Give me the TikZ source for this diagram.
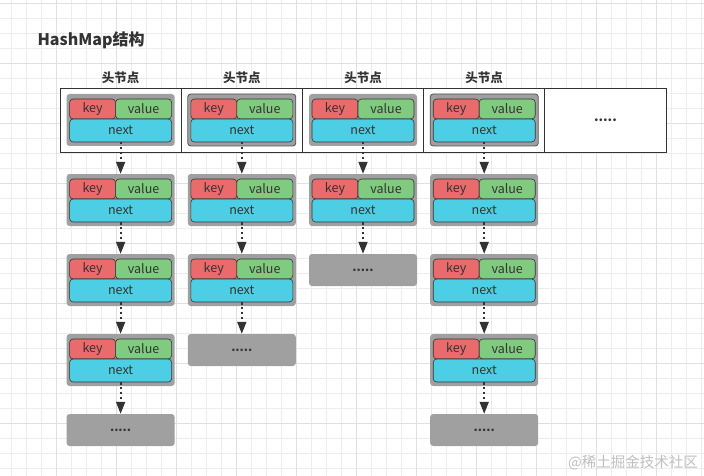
\documentclass[tikz,border=0pt]{standalone}
\usepackage{fontspec}
\setmainfont{Noto Sans CJK SC}
\usetikzlibrary{arrows.meta,positioning}
\definecolor{keyred}{HTML}{EA6B6B}
\definecolor{valgreen}{HTML}{80CB7F}
\definecolor{nextcyan}{HTML}{4CCFE4}
\definecolor{boxgrey}{HTML}{A0A0A0}
\definecolor{ink}{HTML}{333333}
\tikzset{
  outerbox/.style={rectangle, rounded corners=3pt, fill=boxgrey, minimum width=108pt, minimum height=52pt, inner sep=0pt},
  part/.style={rectangle, rounded corners=3.5pt, draw=ink, line width=0.6pt, inner sep=0pt, text=ink, font=\fontsize{12.5}{14}\selectfont},
  keybox/.style={part, fill=keyred, minimum width=46pt, minimum height=20pt},
  valbox/.style={part, fill=valgreen, minimum width=56pt, minimum height=20pt},
  nextbox/.style={part, fill=nextcyan, minimum width=102pt, minimum height=23pt},
  dotbox/.style={rectangle, rounded corners=3pt, fill=boxgrey, minimum width=108pt, minimum height=32pt, inner sep=0pt, text=ink, font=\bfseries\fontsize{12}{14}\selectfont},
  cell/.style={rectangle, draw=ink, line width=0.8pt, fill=white, minimum width=121.2pt, minimum height=64pt, inner sep=0pt},
  headlabel/.style={text=ink, font=\bfseries\fontsize{12.5}{14}\selectfont},
  link/.style={ink, line width=1.8pt, dash pattern=on 2.2pt off 2.6pt, -{Triangle[width=9pt,length=12pt]}},
  minorline/.style={line width=0.5pt, color=black!7},
  majorline/.style={line width=0.6pt, color=black!12}
}
\begin{document}
\begin{tikzpicture}[x=1pt,y=-1pt]
\useasboundingbox (0,0) rectangle (704,476);
% background grid
\foreach \gx in {0,...,46} \draw[minorline] (11.7+15*\gx,0) -- (11.7+15*\gx,476);
\foreach \gy in {0,...,31} \draw[minorline] (0,3.3+15*\gy) -- (704,3.3+15*\gy);
\foreach \gx in {0,...,10} \draw[majorline] (56.7+60*\gx,0) -- (56.7+60*\gx,476);
\foreach \gy in {0,...,7} \draw[majorline] (0,3.3+60*\gy) -- (704,3.3+60*\gy);
\node[anchor=west, text=ink, font=\bfseries\fontsize{16}{18}\selectfont] (title) at (34,40) {HashMap结构};
% table
\node[cell] (c1) at (120.6,120) {};
\node[cell] (c2) at (241.8,120) {};
\node[cell] (c3) at (363,120) {};
\node[cell] (c4) at (484.2,120) {};
\node[cell, font=\bfseries\fontsize{13}{14}\selectfont, text=ink] (c5) at (605.4,120) {.....};
\node[headlabel] (h1) at (120.6,78) {头节点};
\node[headlabel] (h2) at (241.8,78) {头节点};
\node[headlabel] (h3) at (363,78) {头节点};
\node[headlabel] (h4) at (484.2,78) {头节点};
% column 1
\node[outerbox] (e11) at (120.6,120) {};
\node[keybox] (e11k) at (92.6,109) {key};
\node[valbox] (e11v) at (143.6,109) {value};
\node[nextbox] (e11n) at (120.6,130.5) {next};
\node[outerbox] (e12) at (120.6,200) {};
\node[keybox] (e12k) at (92.6,189) {key};
\node[valbox] (e12v) at (143.6,189) {value};
\node[nextbox] (e12n) at (120.6,210.5) {next};
\node[outerbox] (e13) at (120.6,280) {};
\node[keybox] (e13k) at (92.6,269) {key};
\node[valbox] (e13v) at (143.6,269) {value};
\node[nextbox] (e13n) at (120.6,290.5) {next};
\node[outerbox] (e14) at (120.6,360) {};
\node[keybox] (e14k) at (92.6,349) {key};
\node[valbox] (e14v) at (143.6,349) {value};
\node[nextbox] (e14n) at (120.6,370.5) {next};
\node[dotbox] (d15) at (120.6,430) {.....};
% column 2
\node[outerbox, draw=ink!85, line width=0.8pt] (e21) at (241.8,120) {};
\node[keybox] (e21k) at (213.8,109) {key};
\node[valbox] (e21v) at (264.8,109) {value};
\node[nextbox] (e21n) at (241.8,130.5) {next};
\node[outerbox] (e22) at (241.8,200) {};
\node[keybox] (e22k) at (213.8,189) {key};
\node[valbox] (e22v) at (264.8,189) {value};
\node[nextbox] (e22n) at (241.8,210.5) {next};
\node[outerbox] (e23) at (241.8,280) {};
\node[keybox] (e23k) at (213.8,269) {key};
\node[valbox] (e23v) at (264.8,269) {value};
\node[nextbox] (e23n) at (241.8,290.5) {next};
\node[dotbox] (d24) at (241.8,350) {.....};
% column 3
\node[outerbox] (e31) at (363,120) {};
\node[keybox] (e31k) at (335,109) {key};
\node[valbox] (e31v) at (386,109) {value};
\node[nextbox] (e31n) at (363,130.5) {next};
\node[outerbox] (e32) at (363,200) {};
\node[keybox] (e32k) at (335,189) {key};
\node[valbox] (e32v) at (386,189) {value};
\node[nextbox] (e32n) at (363,210.5) {next};
\node[dotbox] (d33) at (363,270) {.....};
% column 4
\node[outerbox, draw=ink!85, line width=0.8pt] (e41) at (484.2,120) {};
\node[keybox] (e41k) at (456.2,109) {key};
\node[valbox] (e41v) at (507.2,109) {value};
\node[nextbox] (e41n) at (484.2,130.5) {next};
\node[outerbox] (e42) at (484.2,200) {};
\node[keybox] (e42k) at (456.2,189) {key};
\node[valbox] (e42v) at (507.2,189) {value};
\node[nextbox] (e42n) at (484.2,210.5) {next};
\node[outerbox] (e43) at (484.2,280) {};
\node[keybox] (e43k) at (456.2,269) {key};
\node[valbox] (e43v) at (507.2,269) {value};
\node[nextbox] (e43n) at (484.2,290.5) {next};
\node[outerbox] (e44) at (484.2,360) {};
\node[keybox] (e44k) at (456.2,349) {key};
\node[valbox] (e44v) at (507.2,349) {value};
\node[nextbox] (e44n) at (484.2,370.5) {next};
\node[dotbox] (d45) at (484.2,430) {.....};
% links
\draw[link] (e11n) -- (e12);
\draw[link] (e12n) -- (e13);
\draw[link] (e13n) -- (e14);
\draw[link] (e14n) -- (d15);
\draw[link] (e21n) -- (e22);
\draw[link] (e22n) -- (e23);
\draw[link] (e23n) -- (d24);
\draw[link] (e31n) -- (e32);
\draw[link] (e32n) -- (d33);
\draw[link] (e41n) -- (e42);
\draw[link] (e42n) -- (e43);
\draw[link] (e43n) -- (e44);
\draw[link] (e44n) -- (d45);
\node[text=black!25, font=\fontsize{14.5}{16}\selectfont] (mark) at (633,463) {@稀土掘金技术社区};
\end{tikzpicture}
\end{document}
